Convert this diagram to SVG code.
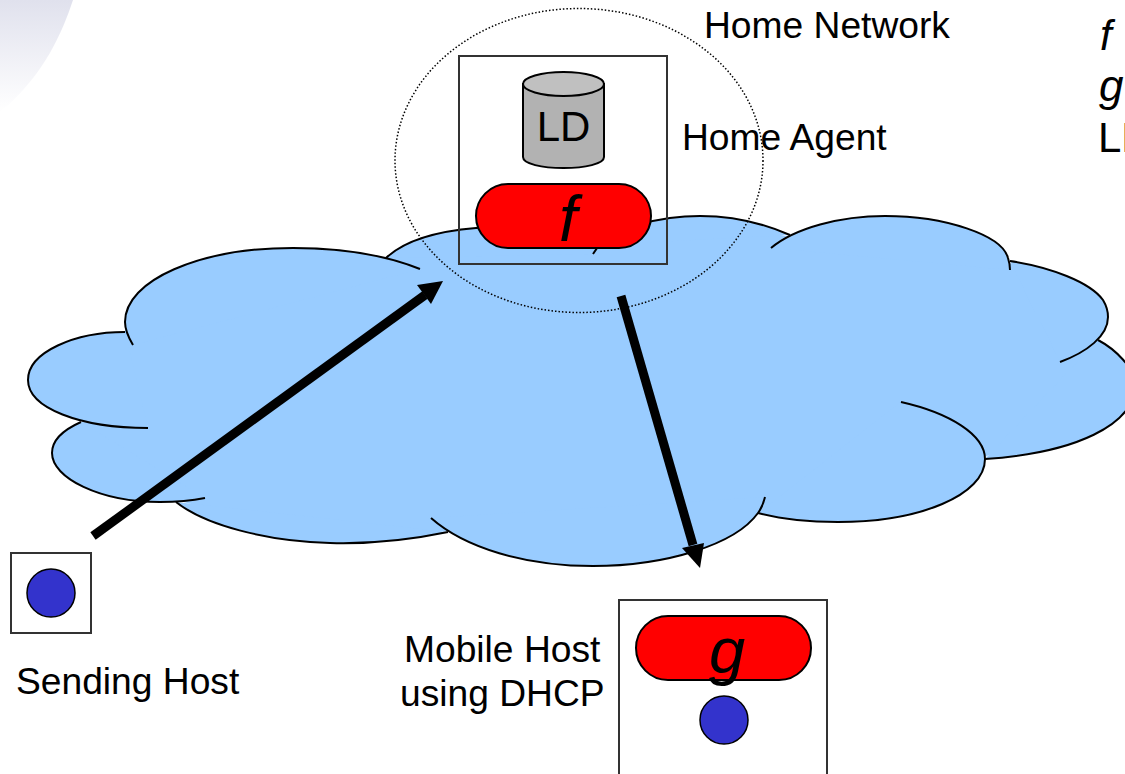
<svg xmlns="http://www.w3.org/2000/svg" width="1125" height="774" viewBox="0 0 1125 774">
<style>
text{font-family:"Liberation Sans",Arial,sans-serif;fill:#000}
.lab{font-size:37.200px}
.big{font-size:65px;font-style:italic;text-anchor:middle}
.key{font-size:42px;font-style:italic}
.box{fill:none;stroke:#333;stroke-width:2}
.pill{fill:#f00;stroke:#000;stroke-width:2}
.dot{fill:#33c;stroke:#000;stroke-width:1.5}
.lobe{fill:none;stroke:#000;stroke-width:2}
.fillb{fill:#99ccff;stroke:none}
.wire{stroke:#000;stroke-width:9;fill:none}
</style>
<defs>
<linearGradient id="corner" x1="0" y1="0" x2="0" y2="1"><stop offset="0" stop-color="#e0e1ed"/><stop offset="1" stop-color="#fff"/></linearGradient>
<path id="l1" d="M133,345C127,335 125,328 125,322C125,280 200,248 293,248C340,248 385,255 420,269"/>
<path id="l2" d="M386,258C405,240 440,231 476,228C540,222 600,232 597,248L593,254"/>
<path id="l3" d="M600,245C615,228 660,216 700,216C735,216 765,224 790,235"/>
<path id="l4" d="M771,248C795,228 840,216 885,216C945,216 1002,235 1008,258Q1010,264 1010,270"/>
<path id="l5" d="M1010,261C1050,267 1090,282 1103,300C1106,305 1108,310 1108,317C1108,336 1087,352 1060,362"/>
<path id="l6" d="M1098,340C1115,349 1135,368 1135,385C1135,425 1075,453 985,459"/>
<path id="l7" d="M901,402C950,413 985,435 985,459C985,495 920,522 838,522C810,522 780,519 758,513"/>
<path id="l8" d="M765,497C763,505 761,509 758,513C735,545 665,566 593,566C525,566 465,548 431,518"/>
<path id="l9" d="M448,532C405,541 365,544 330,543C265,541 205,525 176,502"/>
<path id="l10" d="M205,498C190,501 175,502 160,502C100,502 52,478 52,453C52,441 63,430 81,422"/>
<path id="l11" d="M148,428C80,428 28,408 28,380C28,352 75,332 125,332"/>
</defs>
<rect width="1125" height="774" fill="#fff"/>
<path d="M0,0H73C63,30 45,75 0,112Z" fill="url(#corner)"/>
<g id="cloud">
<path class="fillb" d="M125,332L125,322L293,250L386,258L476,230L700,218L790,237L885,218L1010,263L1108,317L1098,340L1130,385L985,457L838,520L758,511L593,564L448,531L330,541L176,500L160,500L81,422L148,426L28,380Z"/>
<use href="#l1" class="fillb"/><use href="#l2" class="fillb"/><use href="#l3" class="fillb"/><use href="#l4" class="fillb"/><use href="#l5" class="fillb"/><use href="#l6" class="fillb"/><use href="#l7" class="fillb"/><use href="#l8" class="fillb"/><use href="#l9" class="fillb"/><use href="#l10" class="fillb"/><use href="#l11" class="fillb"/>
<use href="#l1" class="lobe"/><use href="#l2" class="lobe"/><use href="#l3" class="lobe"/><use href="#l4" class="lobe"/><use href="#l5" class="lobe"/><use href="#l6" class="lobe"/><use href="#l7" class="lobe"/><use href="#l8" class="lobe"/><use href="#l9" class="lobe"/><use href="#l10" class="lobe"/><use href="#l11" class="lobe"/>
</g>
<g id="home-agent">
<rect class="box" x="459" y="56" width="208" height="208"/>
<path d="M523,84V157C523,164 542,168 563.500,168C585,168 604,164 604,157V84Z" fill="#b2b2b2" stroke="#000" stroke-width="2"/>
<ellipse cx="563.500" cy="84" rx="40.500" ry="12" fill="#c0c0c0" stroke="#000" stroke-width="2"/>
<text x="563.500" y="141" font-size="42" text-anchor="middle">LD</text>
<rect class="pill" x="476" y="184" width="175" height="64" rx="32"/>
<text class="big" x="568" y="241">f</text>
<text class="lab" x="682" y="150">Home Agent</text>
</g>
<g id="home-network">
<text class="lab" x="704" y="38">Home Network</text>
<ellipse cx="579" cy="160.500" rx="184" ry="152" fill="none" stroke="#000" stroke-width="1.500" stroke-dasharray="1.500 2"/>
</g>
<g id="sending-host">
<rect class="box" x="11" y="553" width="80" height="80"/>
<circle class="dot" cx="51" cy="593" r="24"/>
<text class="lab" x="16" y="694">Sending Host</text>
</g>
<g id="mobile-host">
<rect class="box" x="619" y="600" width="208" height="180"/>
<rect class="pill" x="636" y="616" width="175" height="64" rx="32"/>
<text class="big" x="727" y="673">g</text>
<circle class="dot" cx="724" cy="720" r="24"/>
<text class="lab" x="404" y="662">Mobile Host</text>
<text class="lab" x="400" y="706">using DHCP</text>
</g>
<g id="legend">
<text class="key" x="1100" y="50">f</text>
<text class="key" x="1099" y="101" style="font-size:44px">g</text>
<text x="1098" y="152" font-size="42">LD</text>
</g>
<g id="connectors">
<path class="wire" d="M93,536L425,295"/>
<path d="M443,281L417,285L431,304Z" fill="#000"/>
<path class="wire" d="M621,296L693,545"/>
<path d="M700,568L682,548L704,543Z" fill="#000"/>
</g>
</svg>
